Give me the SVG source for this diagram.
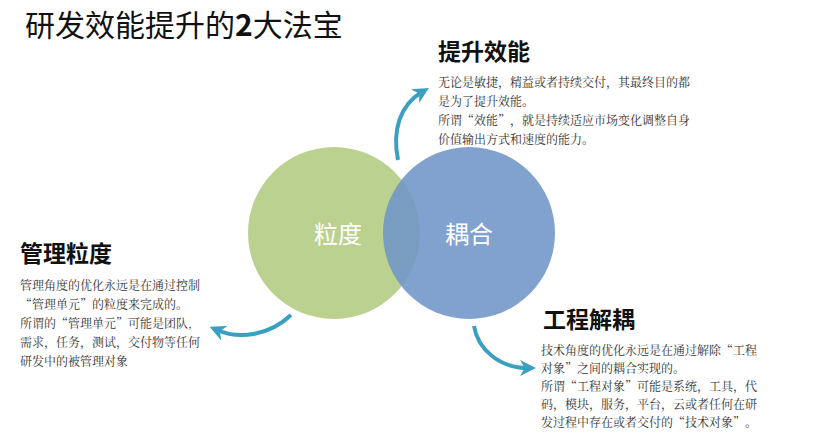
<svg xmlns="http://www.w3.org/2000/svg" width="815" height="435" viewBox="0 0 815 435">
<style>
.h{font-family:"Noto Sans CJK SC","Liberation Sans",sans-serif;font-size:23px;font-weight:bold;fill:#111}
.t{font-family:"Noto Serif CJK SC","Noto Sans CJK SC",serif;font-size:12px;fill:#333}
.c{font-family:"Noto Sans CJK SC",sans-serif;font-size:24px;fill:#fff}
.a{fill:none;stroke:#3a9fc0;stroke-width:4;marker-end:url(#m)}
</style>
<defs><marker id="m" viewBox="0 0 10 10" refX="5" refY="5" markerWidth="4" markerHeight="4" orient="auto"><path d="M0,0L10,5L0,10L3,5z" fill="#3a9fc0"/></marker></defs>
<rect width="815" height="435" fill="#fff"/>
<text x="25" y="36" font-family="Noto Sans CJK SC,sans-serif" font-size="30" fill="#111">研发效能提升的<tspan font-weight="bold">2</tspan>大法宝</text>
<g id="granularity"><circle cx="334" cy="233" r="86" fill="#b5cd85" opacity="0.92"/><text class="c" x="314" y="243">粒度</text></g>
<g id="coupling"><circle cx="469" cy="233" r="86" fill="#6f95c8" opacity="0.88"/><text class="c" x="445" y="243">耦合</text></g>
<g id="efficiency"><text class="h" x="438" y="60">提升效能</text>
<text class="t"><tspan x="438" y="87">无论是敏捷，精益或者持续交付，其最终目的都</tspan><tspan x="438" y="106">是为了提升效能。</tspan><tspan x="438" y="125">所谓“效能”，就是持续适应市场变化调整自身</tspan><tspan x="438" y="144">价值输出方式和速度的能力。</tspan></text></g>
<g id="mgmt"><text class="h" x="20" y="262">管理粒度</text>
<text class="t"><tspan x="20" y="290">管理角度的优化永远是在通过控制</tspan><tspan x="20" y="309">“管理单元”的粒度来完成的。</tspan><tspan x="20" y="328">所谓的“管理单元”可能是团队,</tspan><tspan x="20" y="347">需求，任务，测试，交付物等任何</tspan><tspan x="20" y="366">研发中的被管理对象</tspan></text></g>
<g id="eng"><text class="h" x="543" y="328">工程解耦</text>
<text class="t"><tspan x="541" y="355">技术角度的优化永远是在通过解除“工程</tspan><tspan x="541" y="373">对象”之间的耦合实现的。</tspan><tspan x="541" y="391">所谓“工程对象”可能是系统，工具，代</tspan><tspan x="541" y="409">码，模块，服务，平台，云或者任何在研</tspan><tspan x="541" y="427">发过程中存在或者交付的“技术对象”。</tspan></text></g>
<g id="connectors">
<path class="a" d="M398,160 C392,130 400,105 422,92"/>
<path class="a" d="M291,315 C270,335 240,340 217,330"/>
<path class="a" d="M474,326 C478,350 500,368 528,368"/>
</g>
</svg>
